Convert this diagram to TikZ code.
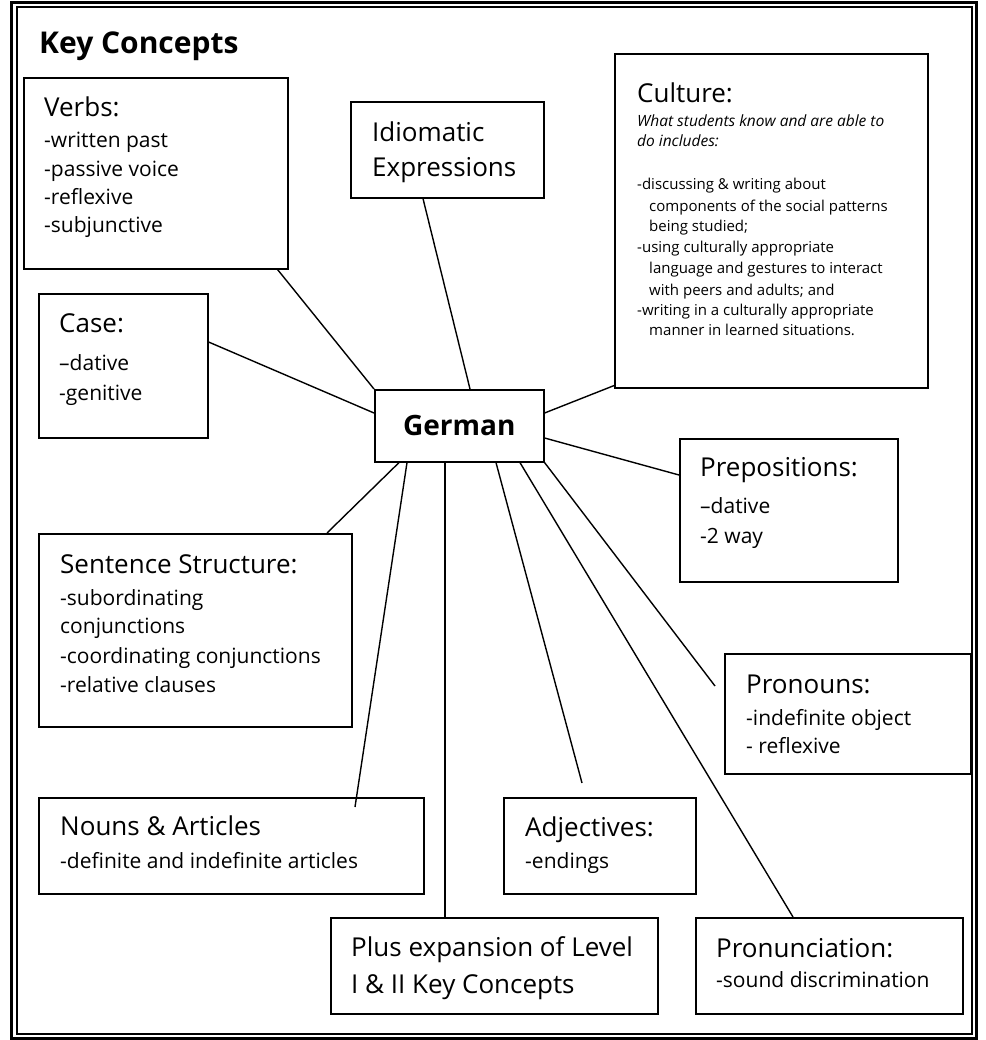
\documentclass[tikz,border=0pt]{standalone}
\usepackage{fontspec}
\setmainfont{Open Sans}
\usetikzlibrary{calc}
\begin{document}
\begin{tikzpicture}[x=1pt,y=-1pt,
  box/.style={draw, line width=1.6pt, anchor=north west, inner sep=0pt},
  link/.style={draw, line width=1.4pt},
  hd/.style={anchor=base west, inner sep=0pt, font=\fontsize{26}{30}\selectfont},
  itm/.style={anchor=base west, inner sep=0pt, font=\fontsize{21}{25}\selectfont},
  sm/.style={anchor=base west, inner sep=0pt, font=\fontsize{15}{18}\selectfont},
  smi/.style={anchor=base west, inner sep=0pt, font=\fontsize{15.5}{18}\selectfont\itshape}]
\useasboundingbox (0,0) rectangle (985,1040);
\fill[white] (0,0) rectangle (985,1040);
% frame
\draw[line width=3pt] (11.5,2.5) rectangle (976,1038);
\draw[line width=2pt] (16.5,7.5) rectangle (971.5,1033.5);
% title
\node[anchor=base west, inner sep=0pt, font=\fontsize{30}{34}\selectfont\bfseries] (title) at (39,54) {Key Concepts};
% boxes
\node[box, minimum width=264pt, minimum height=191pt] (verbs) at (23,77) {};
\node[box, minimum width=193pt, minimum height=96pt] (idiom) at (350,101) {};
\node[box, minimum width=313pt, minimum height=334pt] (culture) at (614,53) {};
\node[box, minimum width=169pt, minimum height=144pt] (case) at (38,293) {};
\node[box, minimum width=169pt, minimum height=72pt, font=\fontsize{28}{32}\selectfont\bfseries] (german) at (374,389) {German};
\node[box, minimum width=218pt, minimum height=143pt] (prep) at (679,438) {};
\node[box, minimum width=313pt, minimum height=193pt] (sent) at (38,533) {};
\node[box, minimum width=246pt, minimum height=120pt] (pron) at (724,653) {};
\node[box, minimum width=385pt, minimum height=96pt] (nouns) at (38,797) {};
\node[box, minimum width=192pt, minimum height=96pt] (adj) at (503,797) {};
\node[box, minimum width=327pt, minimum height=96pt] (plus) at (330,917) {};
\node[box, minimum width=267pt, minimum height=96pt] (pronun) at (695,917) {};
% texts
\node[hd] (verbsH) at (44,117) {Verbs:};
\node[itm] (verbs1) at (44,148) {-written past};
\node[itm] (verbs2) at (44,177) {-passive voice};
\node[itm] (verbs3) at (44,205) {-reflexive};
\node[itm] (verbs4) at (44,233) {-subjunctive};
\node[hd] (idiom1) at (372,142) {Idiomatic};
\node[hd] (idiom2) at (372,177) {Expressions};
\node[hd] (cultH) at (637,103) {Culture:};
\node[smi] (cultI1) at (637,127) {What students know and are able to};
\node[smi] (cultI2) at (637,147) {do includes:};
\node[sm] (cult1) at (637,190) {-discussing \& writing about};
\node[sm] (cult2) at (649,212) {components of the social patterns};
\node[sm] (cult3) at (649,232) {being studied;};
\node[sm] (cult4) at (637,253) {-using culturally appropriate};
\node[sm] (cult5) at (649,273) {language and gestures to interact};
\node[sm] (cult6) at (649,295) {with peers and adults; and};
\node[sm] (cult7) at (637,315) {-writing in a culturally appropriate};
\node[sm] (cult8) at (649,335) {manner in learned situations.};
\node[hd] (caseH) at (59,332) {Case:};
\node[itm] (case1) at (59,370) {–dative};
\node[itm] (case2) at (59,400) {-genitive};
\node[hd] (prepH) at (700,476) {Prepositions:};
\node[itm] (prep1) at (700,513) {–dative};
\node[itm] (prep2) at (700,543) {-2 way};
\node[hd] (sentH) at (60,573) {Sentence Structure:};
\node[itm] (sent1) at (60,605) {-subordinating};
\node[itm] (sent2) at (60,633) {conjunctions};
\node[itm] (sent3) at (60,663) {-coordinating conjunctions};
\node[itm] (sent4) at (60,692) {-relative clauses};
\node[hd] (pronH) at (746,693) {Pronouns:};
\node[itm] (pron1) at (746,725) {-indefinite object};
\node[itm] (pron2) at (746,753) {- reflexive};
\node[hd] (nounsH) at (60,835) {Nouns \& Articles};
\node[itm] (nouns1) at (60,868) {-definite and indefinite articles};
\node[hd] (adjH) at (525,836) {Adjectives:};
\node[itm] (adj1) at (525,868) {-endings};
\node[hd] (plus1) at (351,956) {Plus expansion of Level};
\node[hd] (plus2) at (351,993) {I \& II Key Concepts};
\node[hd] (pronunH) at (716,957) {Pronunciation:};
\node[itm] (pronun1) at (716,987) {-sound discrimination};
% free ends
\coordinate (adjEnd) at ($(adj.north west)+(79,-14)$);
\coordinate (pronEnd) at ($(pron.north west)+(-9,33)$);
% connectors
\draw[link] ($(verbs.south east)+(-11,0)$) -- (german.north west);
\draw[link] ($(idiom.south west)+(73,0)$) -- ($(german.north west)+(96,0)$);
\draw[link] ($(case.north east)+(0,49)$) -- ($(german.north west)+(0,24)$);
\draw[link] ($(german.north east)+(0,24)$) -- ($(culture.south west)+(0,-3)$);
\draw[link] ($(german.north east)+(0,49)$) -- ($(prep.north west)+(0,37)$);
\draw[link] ($(german.south west)+(25,0)$) -- ($(sent.north west)+(289,0)$);
\draw[link] ($(german.south west)+(33,0)$) -- ($(nouns.north west)+(317,10)$);
\draw[link] ($(german.south west)+(71,0)$) -- ($(plus.north west)+(115,0)$);
\draw[link] ($(german.south west)+(122,0)$) -- (adjEnd);
\draw[link] ($(german.south west)+(146,0)$) -- ($(pronun.north west)+(98,0)$);
\draw[link] (german.south east) -- (pronEnd);
\end{tikzpicture}
\end{document}
